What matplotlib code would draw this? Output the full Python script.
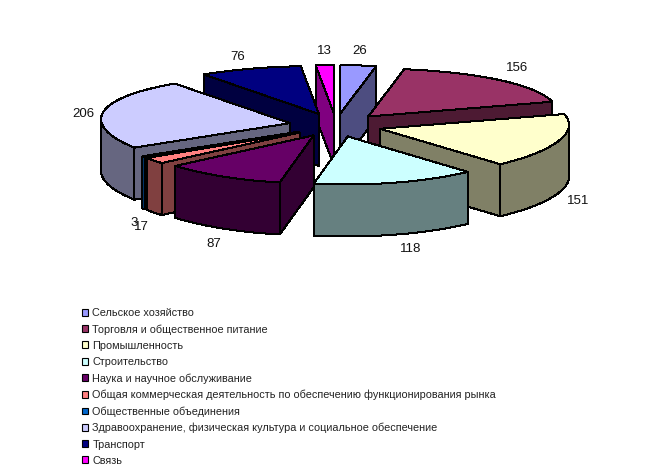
import numpy as np
import matplotlib
matplotlib.use("Agg")
import matplotlib.pyplot as plt
from matplotlib.patches import Polygon, Patch

plt.rcParams['font.family'] = ['Liberation Sans', 'DejaVu Sans']

categories = ["Сельское хозяйство", "Торговля и общественное питание", "Промышленность",
              "Строительство", "Наука и научное обслуживание",
              "Общая коммерческая деятельность по обеспечению функционирования рынка",
              "Общественные объединения",
              "Здравоохранение, физическая культура и социальное обеспечение",
              "Транспорт", "Связь"]
values = [26, 156, 151, 118, 87, 17, 3, 206, 76, 13]
colors = ["#9999FF", "#993366", "#FFFFCC", "#CCFFFF", "#660066",
          "#FF8080", "#0066CC", "#CCCCFF", "#000080", "#FF00FF"]
label_dx = [1, 18, 19, 15, -9, -13, -9, -20, -12, 0]
label_dy = [-14, -12, 60, 66, 67, 66, 66, 2, -12, -14]

# pie geometry in pixels
cx, cy = 336, 125
a, b = 189, 48
tilt = 4
explode = 0.246
depth = 52


def rim(theta):
    return a * np.sin(theta), -b * np.cos(theta) - tilt * np.sin(theta) ** 2


def darker(c):
    return tuple(0.5 * x for x in matplotlib.colors.to_rgb(c))


def wall(ax, xs, ys, color):
    px = np.concatenate([xs, xs[::-1]])
    py = np.concatenate([ys, ys[::-1] + depth])
    ax.add_patch(Polygon(np.column_stack([px, py]), closed=True, fc=darker(color),
                         ec='black', lw=0.72, antialiased=False))


fig = plt.figure(figsize=(6.57, 4.76), dpi=100)
ax = fig.add_axes([0, 0, 1, 1])
ax.set_xlim(0, 657)
ax.set_ylim(476, 0)
ax.axis('off')

v = np.array(values, dtype=float)
edges = np.concatenate([[0], np.cumsum(v)]) / v.sum() * 2 * np.pi
mids = (edges[:-1] + edges[1:]) / 2

# back slices first
order = np.argsort(-np.cos(mids))
for i in order:
    tx = cx + explode * a * np.sin(mids[i])
    ty = cy - explode * b * np.cos(mids[i])
    th = np.linspace(edges[i], edges[i + 1], max(int(np.degrees(edges[i + 1] - edges[i])), 2) + 1)
    rx, ry = rim(th)
    rx = rx + tx
    ry = ry + ty

    # cut faces, only the ones turned to the viewer
    if rx[0] < tx:
        wall(ax, np.array([tx, rx[0]]), np.array([ty, ry[0]]), colors[i])
    if tx < rx[-1]:
        wall(ax, np.array([rx[-1], tx]), np.array([ry[-1], ty]), colors[i])

    # outer wall where the rim runs right to left
    front = np.cos(th) < 0
    if front.sum() > 1:
        wall(ax, rx[front], ry[front], colors[i])

    top = np.column_stack([np.concatenate([[tx], rx]), np.concatenate([[ty], ry])])
    ax.add_patch(Polygon(top, closed=True, fc=colors[i], ec='black', lw=0.72, antialiased=False))

    lx, ly = rim(mids[i])
    ax.text(tx + lx + label_dx[i], ty + ly + label_dy[i], str(values[i]),
            fontsize=9.5, color='#111111', ha='center', va='center')

handles = [Patch(fc=c, ec='black', lw=0.8) for c in colors]
ax.legend(handles, categories, loc='upper left', bbox_to_anchor=(81.5 / 657, 1 - 308 / 476),
          frameon=False, fontsize=7.85, borderpad=0, borderaxespad=0, labelspacing=0.565,
          handlelength=0.6, handleheight=0.6, handletextpad=0.4, labelcolor='#222222')

fig.savefig("out.png", dpi=100)
